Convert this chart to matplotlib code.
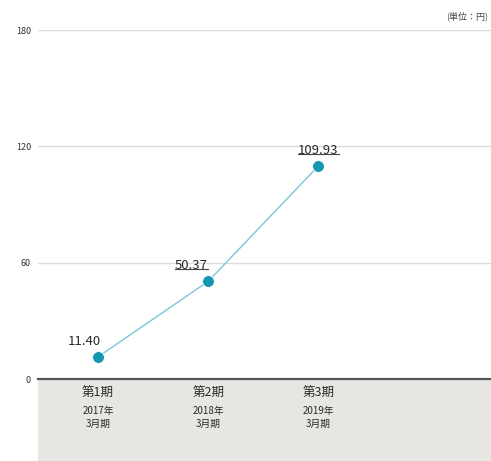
import matplotlib
matplotlib.use("Agg")
import matplotlib.pyplot as plt
from matplotlib.patches import Rectangle
import matplotlib.transforms as mtransforms

plt.rcParams['font.family'] = ['Noto Sans CJK JP', 'DejaVu Sans']

periods = ["第1期", "第2期", "第3期"]
years = ["2017年", "2018年", "2019年"]
months = ["3月期", "3月期", "3月期"]
values = [11.40, 50.37, 109.93]
value_labels = ["11.40", "50.37", "109.93"]
underlined = [False, True, True]
yticks = [0, 60, 120, 180]
unit_label = "(単位：円)"

W, H = 491, 461
fig = plt.figure(figsize=(W / 100, H / 100), dpi=100)
left = 38 / W
bottom = (H - 379) / H
top = (H - 30) / H
ax = fig.add_axes([left, bottom, 1 - left, top - bottom])

x = list(range(len(values)))
ax.set_xlim(-0.544, 3.565)
ax.set_ylim(0, 180)

for yv in yticks[1:]:
    ax.axhline(yv, color="#dcdcdc", lw=1.0, zorder=1)
ax.axhline(0, color="#555555", lw=1.6, zorder=3, clip_on=False)

ax.plot(x, values, color="#7cc6d8", lw=1.0, zorder=4)
ax.plot(x, values, "o", color="#1596b3", ms=8.5, mec="#ffffff", mew=0.6, zorder=5)

offsets = [(-10, 6.5), (-12, 6.5), (0, 6.5)]
fig.canvas.draw()
renderer = fig.canvas.get_renderer()
for xi, v, lab, ul, off in zip(x, values, value_labels, underlined, offsets):
    t = ax.annotate(lab, (xi, v), xytext=off, textcoords="offset points",
                    ha="center", va="bottom", fontsize=9.5, color="#2a2a2a", zorder=6)
    if ul:
        bb = t.get_window_extent(renderer=renderer)
        inv = fig.transFigure.inverted()
        (x0, y0), (x1, y1) = inv.transform([(bb.x0, bb.y0), (bb.x1, bb.y0)])
        yy = y0 + 3 / H
        fig.add_artist(plt.Line2D([x0, x1], [yy, yy], color="#444444",
                                  lw=0.8, transform=fig.transFigure))

ax.set_yticks(yticks)
ax.set_yticklabels([str(t) for t in yticks], fontsize=6.5, color="#333333")
ax.tick_params(axis="y", length=0, pad=5)
ax.set_xticks([])
for s in ax.spines.values():
    s.set_visible(False)

# gray label area
fig.add_artist(Rectangle((left, 0), 1 - left, bottom - 1 / H, transform=fig.transFigure,
                         facecolor="#e8e6e3", edgecolor="none", zorder=0))

trans = mtransforms.blended_transform_factory(ax.transData, fig.transFigure)
for xi, p, yr, m in zip(x, periods, years, months):
    ax.text(xi, (H - 393) / H, p, transform=trans, ha="center", va="center",
            fontsize=9, color="#2a2a2a", clip_on=False)
    ax.text(xi, (H - 411) / H, yr, transform=trans, ha="center", va="center",
            fontsize=7, color="#2a2a2a", clip_on=False)
    ax.text(xi, (H - 424) / H, m, transform=trans, ha="center", va="center",
            fontsize=7, color="#2a2a2a", clip_on=False)

fig.text(488 / W, (H - 16) / H, unit_label, ha="right", va="center",
         fontsize=6.5, color="#444444")

fig.savefig("out.png", dpi=100)
